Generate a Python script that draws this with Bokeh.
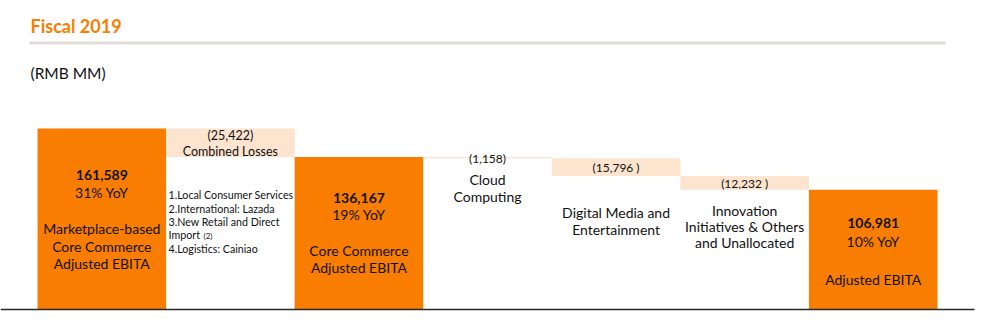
from bokeh.plotting import figure
from bokeh.models import Range1d, Label, ColumnDataSource
from bokeh.embed import file_html
from bokeh.resources import INLINE

# ---------------- data ----------------
categories = ["Marketplace-based Core Commerce Adjusted EBITA", "Combined Losses",
              "Core Commerce Adjusted EBITA", "Cloud Computing",
              "Digital Media and Entertainment",
              "Innovation Initiatives & Others and Unallocated", "Adjusted EBITA"]
values = [161589, -25422, 136167, -1158, -15796, -12232, 106981]
is_total = [True, False, True, False, False, False, True]
value_labels = ["161,589", "(25,422)", "136,167", "(1,158)", "(15,796 )", "(12,232 )", "106,981"]
yoy_labels = ["31% YoY", "", "19% YoY", "", "", "", "10% YoY"]
name_lines = [["Marketplace-based", "Core Commerce", "Adjusted EBITA"],
              ["Combined Losses"],
              ["Core Commerce", "Adjusted EBITA"],
              ["Cloud", "Computing"],
              ["Digital Media and", "Entertainment"],
              ["Innovation", "Initiatives & Others", "and Unallocated"],
              ["Adjusted EBITA"]]
loss_items = ["1.Local Consumer Services", "2.International: Lazada",
              "3.New Retail and Direct", "Import", "4.Logistics: Cainiao"]

title = "Fiscal 2019"
unit = "(RMB MM)"

# ---------------- layout helpers ----------------
W, H = 985, 332
BW = 900 / 7.0                 # bar width in px
X0 = -0.5 - 37 / BW            # data x at left edge of canvas
BASE_PX = 309                  # baseline pixel (from top)
S = values[0] / (BASE_PX - 128)  # data units per px

def px2x(px):
    return X0 + px / BW

def py2y(py):
    return (BASE_PX - py) * S

ORANGE = "#F97D00"
PEACH = "#FDE4CF"
TXT = "#111111"
FONT = "Lato"

# waterfall geometry from values
bottoms, tops, colors = [], [], []
running = 0
for v, tot in zip(values, is_total):
    if tot:
        bottoms.append(0)
        tops.append(v)
        running = v
        colors.append(ORANGE)
    else:
        tops.append(running)
        running = running + v
        bottoms.append(running)
        colors.append(PEACH)

xs = list(range(len(values)))
src = ColumnDataSource(dict(x=xs, bottom=bottoms, top=tops, color=colors))

p = figure(width=W, height=H, output_backend="svg", toolbar_location=None,
           x_range=Range1d(px2x(0), px2x(W)), y_range=Range1d(py2y(H), py2y(0)),
           x_axis_location=None, y_axis_location=None, min_border=0)
p.outline_line_color = None
p.grid.visible = False
p.background_fill_color = "white"
p.border_fill_color = "white"

p.vbar(x="x", width=1.0, bottom="bottom", top="top", fill_color="color",
       line_color=None, source=src)

# baseline
p.segment(x0=[px2x(0)], y0=[0], x1=[px2x(974)], y1=[0], line_color="#262626", line_width=1.6)
# header rule
p.quad(left=[px2x(29)], right=[px2x(945)], top=[py2y(41)], bottom=[py2y(44)],
       fill_color="#E0DDD8", line_color=None)

def lab(text, xd, ypix, size=14, bold=False, color=TXT, align="center"):
    p.add_layout(Label(x=xd, y=py2y(ypix), text=text, text_font=FONT,
                       text_font_size=f"{size}px", text_color=color,
                       text_font_style="bold" if bold else "normal",
                       text_align=align, text_baseline="middle"))

lab(title, px2x(30), 25, size=18, bold=True, color=ORANGE, align="left")
lab(unit, px2x(30), 72, size=15.5, align="left")

# totals
lab(value_labels[0], 0, 174, bold=True); lab(yoy_labels[0], 0, 192)
for t, y in zip(name_lines[0], [228, 246, 263]):
    lab(t, 0, y)

lab(value_labels[2], 2, 197, bold=True); lab(yoy_labels[2], 2, 214)
for t, y in zip(name_lines[2], [250, 267]):
    lab(t, 2, y)

lab(value_labels[6], 6, 222, bold=True); lab(yoy_labels[6], 6, 241)
lab(name_lines[6][0], 6, 279)

# combined losses
lab(value_labels[1], 1, 135, size=12.5)
lab(name_lines[1][0], 1, 151, size=12.5)
for t, y in zip(loss_items, [194, 208, 221, 234, 248]):
    lab(t, px2x(168), y, size=10.7, align="left")
lab("(2)", px2x(203), 235, size=8, align="left")

# cloud
lab(value_labels[3], 3, 158, size=12)
for t, y in zip(name_lines[3], [179, 196]):
    lab(t, 3, y)

# digital media
lab(value_labels[4], 4, 167, size=12)
for t, y in zip(name_lines[4], [212, 229]):
    lab(t, 4, y)

# innovation
lab(value_labels[5], 5, 183, size=12)
for t, y in zip(name_lines[5], [210, 226, 242]):
    lab(t, 5, y)

open("out.html", "w").write(file_html(p, INLINE))
